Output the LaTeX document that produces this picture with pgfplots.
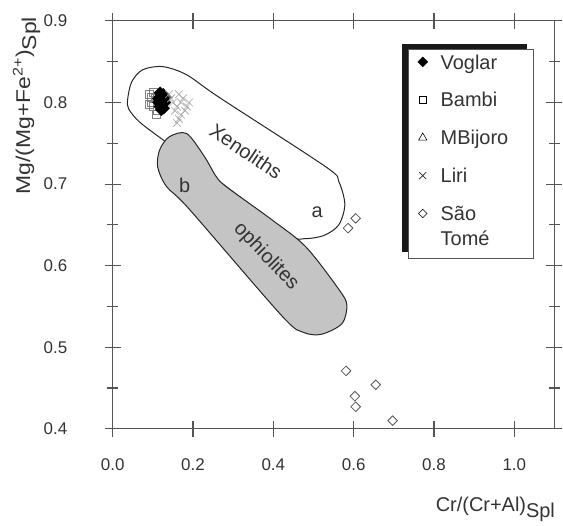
\documentclass[border=0pt]{standalone}
\usepackage{fontspec}
\setmainfont{Liberation Sans}
\usepackage{graphicx}
\usepackage{pgfplots}
\pgfplotsset{compat=1.18}
\definecolor{ax}{HTML}{555555}
\definecolor{txt}{HTML}{333333}
\definecolor{ophi}{HTML}{C4C4C4}
\begin{document}
\begin{tikzpicture}
\begin{axis}[
 scale only axis, width=443pt, height=409pt,
 xmin=0, xmax=1.1, ymin=0.4, ymax=0.9,
 xtick={0,0.2,0.4,0.6,0.8,1.0}, ytick={0.4,0.5,0.6,0.7,0.8,0.9},
 minor ytick={0.45,0.55,0.65,0.75,0.85},
 xticklabels={0.0,0.2,0.4,0.6,0.8,1.0},
 yticklabels={0.4,0.5,0.6,0.7,0.8,0.9},
 tick align=center,
 major tick length=16pt, minor tick length=11pt,
 axis line style={ax, line width=1.1pt},
 every tick/.style={ax, line width=1.1pt},
 tick label style={font=\fontsize{17}{20}\selectfont, text=txt},
 xticklabel style={yshift=-18pt},
 yticklabel style={xshift=-34pt},
 xlabel={Cr/(Cr+Al)\raisebox{-0.3em}{Spl}},
 ylabel={\scalebox{1.15}[1]{Mg/(Mg+Fe\textsuperscript{2+})\raisebox{-0.3em}{Spl}}},
 xlabel style={font=\fontsize{20}{24}\selectfont, text=txt, at={(axis description cs:1.009,-0.203)}, anchor=base east},
 ylabel style={font=\fontsize{20}{24}\selectfont, text=txt, at={(axis description cs:-0.187,0.792)}, anchor=base},
 legend cell align=left,
 legend style={at={(axis description cs:0.6907,0.9169)}, anchor=north west,
   draw=none, fill=none, font=\fontsize{20}{24}\selectfont, text=txt,
   inner sep=0pt, outer sep=0pt, row sep=23.7pt, column sep=13pt,
   nodes={inner sep=0pt, text height=14.3pt, text depth=0pt}},
 clip=false,
]
% invisible page frame
\path (axis description cs:-0.2551,-0.2225) rectangle (axis description cs:1.0158,1.0513);
% fields
\addplot[draw=black!85, line width=1pt, fill=white, smooth cycle, forget plot] coordinates {
 (0.037,0.803) (0.047,0.825) (0.074,0.840) (0.124,0.844) (0.184,0.834) (0.266,0.806)
 (0.531,0.721) (0.563,0.703) (0.578,0.675) (0.563,0.650) (0.526,0.637) (0.476,0.633)
 (0.439,0.638) (0.285,0.696) (0.134,0.751) (0.067,0.776) (0.040,0.792)};
\addplot[draw=black!85, line width=1pt, fill=ophi, smooth cycle, forget plot] coordinates {
 (0.141,0.758) (0.184,0.762) (0.228,0.734) (0.258,0.709) (0.285,0.696) (0.397,0.656)
 (0.481,0.623) (0.563,0.571) (0.583,0.552) (0.571,0.529) (0.521,0.516) (0.476,0.518)
 (0.422,0.538) (0.191,0.669) (0.134,0.697) (0.112,0.721) (0.117,0.742)};
\node[rotate=-34, font=\fontsize{20}{24}\selectfont, text=txt] at (axis cs:0.332,0.740) {Xenoliths};
\node[rotate=-46, font=\fontsize{20}{24}\selectfont, text=txt] at (axis cs:0.382,0.611) {ophiolites};
\node[font=\fontsize{20}{24}\selectfont, text=txt] at (axis cs:0.179,0.699) {b};
\node[font=\fontsize{20}{24}\selectfont, text=txt] at (axis cs:0.509,0.665) {a};
% data
\addplot[only marks, mark=triangle, mark size=3.5pt, draw=black!55, forget plot] coordinates {
 (0.120,0.802) (0.125,0.798)};
\addplot[only marks, mark=square, mark size=4pt, draw=black!50, line width=0.6pt, forget plot] coordinates {
 (0.090,0.810) (0.095,0.800) (0.100,0.795) (0.105,0.805) (0.110,0.790) (0.100,0.812)
 (0.090,0.798) (0.115,0.800) (0.108,0.786) (0.096,0.806)};
\addplot[only marks, mark=square*, mark options={rotate=45}, mark size=4.2pt, fill=black, draw=black, forget plot] coordinates {
 (0.114,0.800) (0.120,0.806) (0.126,0.810) (0.117,0.795) (0.130,0.800) (0.122,0.809)
 (0.113,0.805) (0.127,0.793) (0.120,0.798) (0.124,0.803) (0.118,0.812) (0.131,0.806)
 (0.121,0.791)};
\addplot[only marks, mark=x, mark size=5.5pt, draw=black!35, line width=0.6pt, forget plot] coordinates {
 (0.140,0.810) (0.150,0.800) (0.160,0.795) (0.170,0.800) (0.180,0.790) (0.165,0.780)
 (0.160,0.775) (0.175,0.805) (0.185,0.795) (0.155,0.790) (0.170,0.785) (0.145,0.805)
 (0.190,0.800) (0.165,0.810)};
\addplot[only marks, mark=square, mark options={rotate=45}, mark size=3.4pt, draw=black!65, line width=0.8pt, forget plot] coordinates {
 (0.605,0.658) (0.586,0.646) (0.581,0.471) (0.655,0.454) (0.603,0.440) (0.605,0.427)
 (0.697,0.410)};
% legend frame with shadow
\fill[black!90] (axis description cs:0.6546,0.9438) rectangle (axis description cs:0.9368,0.4328);
\draw[ax, line width=1pt, fill=white] (axis description cs:0.6704,0.9291) rectangle (axis description cs:0.9526,0.4181);
\addlegendimage{only marks, mark=square*, mark options={rotate=45}, mark size=3.5pt, fill=black, draw=black}
\addlegendentry{Voglar}
\addlegendimage{only marks, mark=square, mark size=3.2pt, draw=black, line width=0.6pt}
\addlegendentry{Bambi}
\addlegendimage{only marks, mark=triangle, mark size=4.8pt, draw=black, line width=0.6pt}
\addlegendentry{MBijoro}
\addlegendimage{only marks, mark=x, mark size=5pt, draw=black!85, line width=0.7pt}
\addlegendentry{Liri}
\addlegendimage{only marks, mark=square, mark options={rotate=45}, mark size=3pt, draw=black, line width=0.6pt}
\addlegendentry{\begin{tabular}[t]{@{}l@{}}São\\[1pt]Tomé\end{tabular}}
\end{axis}
\end{tikzpicture}
\end{document}
